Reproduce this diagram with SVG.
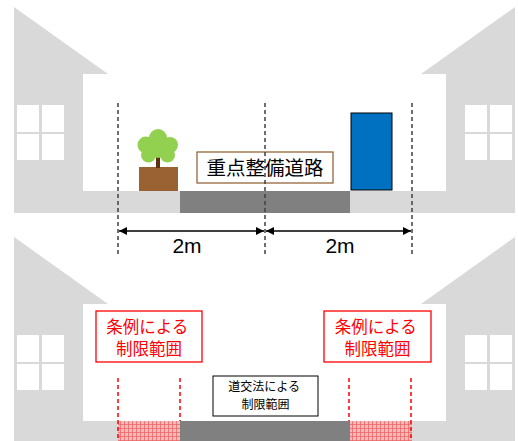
<svg xmlns="http://www.w3.org/2000/svg" width="518" height="441" viewBox="0 0 518 441">
  <style>
    .house { fill: #d9d9d9; }
    .win { fill: #ffffff; }
    .ground { fill: #d9d9d9; }
    .road { fill: #808080; }
    .guide { stroke: #404040; stroke-width: 1.5; stroke-dasharray: 4 3; fill: none; }
    .limit { stroke: #ff0000; stroke-width: 1.5; stroke-dasharray: 4 3; fill: none; }
    .dim { stroke: #000000; stroke-width: 1.5; fill: none; marker-start: url(#arrow); marker-end: url(#arrow); }
    .jp { font-family: "Noto Sans CJK JP", "Noto Sans", sans-serif; }
    .num { font-family: "Liberation Sans", Arial, sans-serif; font-size: 21px; fill: #000; }
  </style>
  <defs>
    <marker id="arrow" viewBox="0 0 10 10" refX="10" refY="5" markerWidth="5.5" markerHeight="5.5" orient="auto-start-reverse">
      <path d="M0 0 L10 5 L0 10 Z" fill="#000"/>
    </marker>
    <pattern id="hatch" width="4" height="4" patternUnits="userSpaceOnUse">
      <rect width="4" height="4" fill="#f6b8b8"/>
      <rect x="0" y="0" width="4" height="1" fill="#e86060" opacity="0.7"/>
      <rect x="0" y="0" width="1" height="4" fill="#e86060" opacity="0.7"/>
    </pattern>
    <!-- one house with its window, reused left and mirrored right -->
    <g id="houseL">
      <path class="house" d="M14 7 L108 74 L83 74 L83 191 L14 191 Z"/>
      <rect class="win" x="17" y="105" width="22" height="27"/>
      <rect class="win" x="42" y="105" width="22" height="27"/>
      <rect class="win" x="17" y="134" width="22" height="26"/>
      <rect class="win" x="42" y="134" width="22" height="26"/>
    </g>
  </defs>

  <!-- upper scene: current road -->
  <g id="scene-top">
    <use href="#houseL"/>
    <use href="#houseL" transform="translate(529,0) scale(-1,1)"/>
    <rect class="ground" x="14" y="191" width="501" height="22"/>
    <rect class="road" x="180" y="191" width="170" height="22"/>
  </g>

  <g id="plant">
    <rect x="139" y="167" width="39" height="24" fill="#9a6232"/>
    <rect x="156" y="156" width="4" height="12" fill="#5e3010"/>
    <g fill="#92d050">
      <circle cx="158" cy="138" r="9"/>
      <circle cx="146" cy="145" r="8.5"/>
      <circle cx="170" cy="145" r="8"/>
      <circle cx="148.5" cy="155" r="7.5"/>
      <circle cx="167.5" cy="155" r="7.5"/>
      <circle cx="158" cy="148" r="10"/>
    </g>
  </g>

  <g id="door">
    <rect x="351" y="113" width="41" height="77" fill="#0070c0" stroke="#000" stroke-width="1"/>
  </g>

  <g id="label-road">
    <rect x="197" y="152" width="136" height="31" fill="#fff" stroke="#8b5a2b" stroke-width="1.2"/>
    <text class="jp" x="265" y="174.5" font-size="19.5" text-anchor="middle" fill="#000">重点整備道路</text>
  </g>

  <!-- lower scene: restricted zones -->
  <g id="scene-bottom">
    <use href="#houseL" transform="translate(0,230)"/>
    <use href="#houseL" transform="translate(529,230) scale(-1,1)"/>
    <rect class="ground" x="14" y="421" width="501" height="20"/>
    <rect class="road" x="180" y="421" width="170" height="20"/>
    <rect x="118" y="421" width="62" height="20" fill="url(#hatch)"/>
    <rect x="350" y="421" width="62" height="20" fill="url(#hatch)"/>
  </g>

  <g id="label-ordinance-left">
    <rect x="96" y="311" width="106" height="51" fill="#fff" stroke="#ff0000" stroke-width="1.3"/>
    <text class="jp" fill="#ff0000" font-size="16.5" text-anchor="middle">
      <tspan x="149" y="333">条例による</tspan>
      <tspan x="149" y="355">制限範囲</tspan>
    </text>
  </g>

  <g id="label-ordinance-right">
    <rect x="324" y="311" width="107" height="51" fill="#fff" stroke="#ff0000" stroke-width="1.3"/>
    <text class="jp" fill="#ff0000" font-size="16.5" text-anchor="middle">
      <tspan x="377.5" y="333">条例による</tspan>
      <tspan x="377.5" y="355">制限範囲</tspan>
    </text>
  </g>

  <g id="label-traffic">
    <rect x="213" y="376" width="105" height="40" fill="#fff" stroke="#000" stroke-width="1"/>
    <text class="jp" fill="#000" font-size="12" text-anchor="middle">
      <tspan x="265.5" y="391">道交法による</tspan>
      <tspan x="265.5" y="408.5">制限範囲</tspan>
    </text>
  </g>

  <!-- connectors: guide lines, dimension arrows, limit lines -->
  <g id="connectors">
    <line class="guide" x1="118" y1="103" x2="118" y2="254"/>
    <line class="guide" x1="265" y1="103" x2="265" y2="254" stroke-width="1.2"/>
    <line class="guide" x1="412" y1="103" x2="412" y2="254"/>
    <line class="dim" x1="119" y1="231" x2="264" y2="231"/>
    <line class="dim" x1="266" y1="231" x2="411" y2="231"/>
    <line class="limit" x1="118" y1="378" x2="118" y2="441"/>
    <line class="limit" x1="180" y1="378" x2="180" y2="421"/>
    <line class="limit" x1="349" y1="378" x2="349" y2="421"/>
    <line class="limit" x1="411" y1="378" x2="411" y2="441"/>
  </g>

  <g id="dim-labels">
    <text class="num" x="187" y="253" text-anchor="middle">2m</text>
    <text class="num" x="340" y="253" text-anchor="middle">2m</text>
  </g>
</svg>
